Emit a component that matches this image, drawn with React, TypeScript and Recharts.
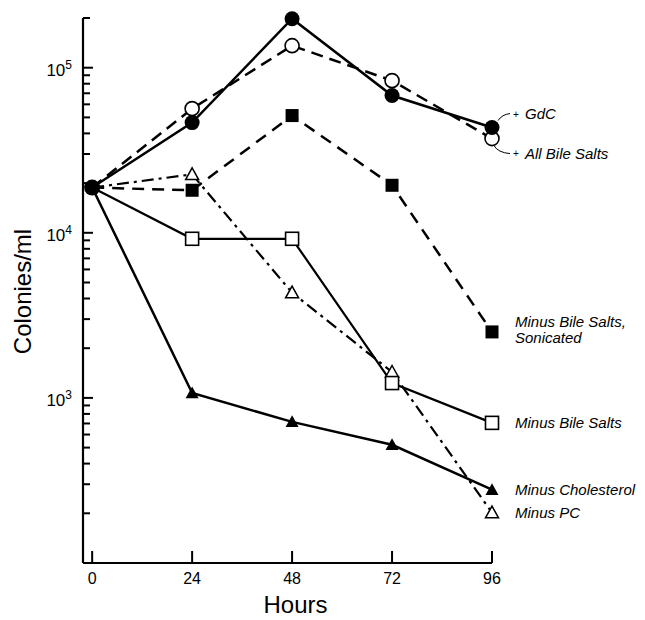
import React from "react";
import { LineChart, Line, XAxis, YAxis } from "recharts";

const hours = [0, 24, 48, 72, 96];
const gdc = [18800, 46500, 198000, 67800, 43400];
const allBileSalts = [18800, 56500, 136000, 83500, 37200];
const sonicated = [18800, 18100, 51300, 19400, 2510];
const minusBileSalts = [18800, 9200, 9200, 1230, 706];
const minusCholesterol = [18800, 1070, 716, 520, 278];
const minusPC = [18800, 22600, 4340, 1435, 202];

const xTicks = [0, 24, 48, 72, 96];
const yTicks = [
  200, 300, 400, 500, 600, 700, 800, 900,
  1000, 2000, 3000, 4000, 5000, 6000, 7000, 8000, 9000,
  10000, 20000, 30000, 40000, 50000, 60000, 70000, 80000, 90000,
  100000, 200000,
];
const majorTicks: Record<number, string> = { 1000: "3", 10000: "4", 100000: "5" };

const data = hours.map((h, i) => ({
  h,
  gdc: gdc[i],
  all: allBileSalts[i],
  son: sonicated[i],
  mbs: minusBileSalts[i],
  mch: minusCholesterol[i],
  mpc: minusPC[i],
}));

const FONT = "'Liberation Sans', Arial, Helvetica, sans-serif";

function marker(shape: string, cx: number, cy: number) {
  const s = 6.5;
  switch (shape) {
    case "fcircle":
      return <circle cx={cx} cy={cy} r={7.5} fill="#000" />;
    case "ocircle":
      return <circle cx={cx} cy={cy} r={7} fill="#fff" stroke="#000" strokeWidth={1.6} />;
    case "fsquare":
      return <rect x={cx - 6.5} y={cy - 6.5} width={13} height={13} fill="#000" />;
    case "osquare":
      return <rect x={cx - 6.5} y={cy - 6.5} width={13} height={13} fill="#fff" stroke="#000" strokeWidth={1.6} />;
    case "ftri":
      return <polygon points={`${cx},${cy - s} ${cx + s},${cy + s * 0.8} ${cx - s},${cy + s * 0.8}`} fill="#000" />;
    case "otri":
      return (
        <polygon
          points={`${cx},${cy - s} ${cx + s},${cy + s * 0.8} ${cx - s},${cy + s * 0.8}`}
          fill="#fff"
          stroke="#000"
          strokeWidth={1.5}
        />
      );
    default:
      return null;
  }
}

function endLabel(kind: string, cx: number, cy: number) {
  const ts = { fontFamily: FONT, fontStyle: "italic" as const, fontSize: 15, fill: "#000" };
  if (kind === "gdc") {
    return (
      <g>
        <path d={`M${cx + 6},${cy - 7} Q${cx + 10},${cy - 13} ${cx + 18},${cy - 14}`} fill="none" stroke="#000" strokeWidth={1} />
        <text x={cx + 21} y={cy - 10} fontFamily={FONT} fontSize={10}>+</text>
        <text x={cx + 33} y={cy - 9} {...ts}>GdC</text>
      </g>
    );
  }
  if (kind === "all") {
    return (
      <g>
        <path d={`M${cx + 2},${cy + 7} Q${cx + 6},${cy + 14} ${cx + 18},${cy + 15}`} fill="none" stroke="#000" strokeWidth={1} />
        <text x={cx + 21} y={cy + 18} fontFamily={FONT} fontSize={10}>+</text>
        <text x={cx + 33} y={cy + 20} {...ts}>All Bile Salts</text>
      </g>
    );
  }
  if (kind === "son") {
    return (
      <g>
        <text x={cx + 23} y={cy - 5} {...ts}>Minus Bile Salts,</text>
        <text x={cx + 23} y={cy + 11} {...ts}>Sonicated</text>
      </g>
    );
  }
  const names: Record<string, string> = {
    mbs: "Minus Bile Salts",
    mch: "Minus Cholesterol",
    mpc: "Minus PC",
  };
  return (
    <text x={cx + 23} y={cy + 5} {...ts}>
      {names[kind]}
    </text>
  );
}

function makeDot(shape: string, kind: string, showFirst: boolean) {
  return (props: any) => {
    const { cx, cy, index } = props;
    if (cx == null || cy == null) return <g key={`d-${kind}-${index}`} />;
    if (index === 0 && !showFirst) return <g key={`d-${kind}-${index}`} />;
    return (
      <g key={`d-${kind}-${index}`}>
        {index === 0 ? <circle cx={cx} cy={cy} r={8} fill="#000" /> : marker(shape, cx, cy)}
        {index === hours.length - 1 ? endLabel(kind, cx, cy) : null}
      </g>
    );
  };
}

const YTick = (props: any) => {
  const { x, y, payload } = props;
  const v = payload.value;
  const sup = majorTicks[v];
  const len = sup ? 10 : 7;
  return (
    <g>
      <line x1={x} y1={y} x2={x + len} y2={y} stroke="#000" strokeWidth={2} />
      {sup ? (
        <text x={x - 11} y={y + 8} textAnchor="end" fontFamily={FONT} fontSize={17} fill="#000">
          10
          <tspan dy={-7} fontSize={12}>
            {sup}
          </tspan>
        </text>
      ) : null}
    </g>
  );
};

const XTick = (props: any) => {
  const { x, y, payload } = props;
  return (
    <g>
      <line x1={x} y1={y} x2={x} y2={y - 12} stroke="#000" strokeWidth={2} />
      <text x={x} y={y + 21} textAnchor="middle" fontFamily={FONT} fontSize={16} fill="#000">
        {payload.value}
      </text>
    </g>
  );
};

export default function App() {
  return (
    <div style={{ width: 637, height: 612, background: "#fff" }}>
      <LineChart width={637} height={612} data={data} margin={{ top: 10, right: 153, bottom: 0, left: 0 }}>
        <XAxis
          dataKey="h"
          type="number"
          domain={[-2.2, 96]}
          ticks={xTicks}
          interval={0}
          tickSize={0}
          tickMargin={0}
          tickLine={false}
          tick={<XTick />}
          height={57}
          axisLine={{ stroke: "#000", strokeWidth: 2.2 }}
          label={{
            content: (p: any) => {
              const vb = p.viewBox;
              return (
                <text x={vb.x + vb.width / 2 + 8} y={vb.y + 50} textAnchor="middle" fontFamily={FONT} fontSize={24} fill="#000">
                  Hours
                </text>
              );
            },
          }}
        />
        <YAxis
          type="number"
          scale="log"
          domain={[100, 200000]}
          ticks={yTicks}
          interval={0}
          tickSize={0}
          tickMargin={0}
          tickLine={false}
          tick={<YTick />}
          width={75}
          axisLine={{ stroke: "#000", strokeWidth: 2.2 }}
          label={{
            content: (p: any) => {
              const vb = p.viewBox;
              const cy = vb.y + vb.height / 2 + 1;
              return (
                <text
                  x={23}
                  y={cy}
                  transform={`rotate(-90, 23, ${cy})`}
                  textAnchor="middle"
                  fontFamily={FONT}
                  fontSize={24}
                  fill="#000"
                >
                  Colonies/ml
                </text>
              );
            },
          }}
        />
        <Line dataKey="mpc" stroke="#000" strokeWidth={2.2} strokeDasharray="12 5 3 5" dot={makeDot("otri", "mpc", false)} isAnimationActive={false} />
        <Line dataKey="mch" stroke="#000" strokeWidth={2.5} dot={makeDot("ftri", "mch", false)} isAnimationActive={false} />
        <Line dataKey="mbs" stroke="#000" strokeWidth={2.2} dot={makeDot("osquare", "mbs", false)} isAnimationActive={false} />
        <Line dataKey="son" stroke="#000" strokeWidth={2.5} strokeDasharray="12 8" dot={makeDot("fsquare", "son", false)} isAnimationActive={false} />
        <Line dataKey="all" stroke="#000" strokeWidth={2.5} strokeDasharray="12 7" dot={makeDot("ocircle", "all", false)} isAnimationActive={false} />
        <Line dataKey="gdc" stroke="#000" strokeWidth={2.5} dot={makeDot("fcircle", "gdc", true)} isAnimationActive={false} />
      </LineChart>
    </div>
  );
}
